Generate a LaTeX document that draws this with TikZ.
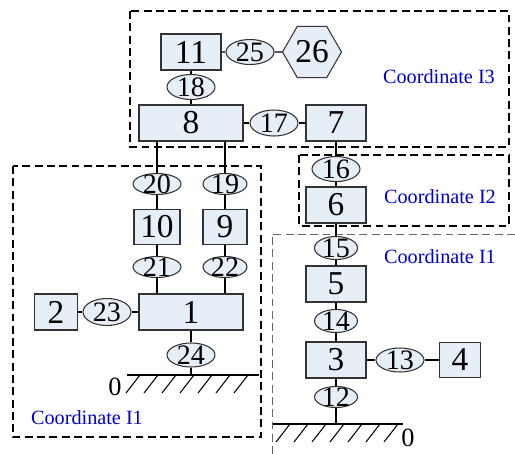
\documentclass[tikz,border=0pt]{standalone}
\usepackage{fontspec}
\setmainfont{Liberation Serif}
\usetikzlibrary{shapes.geometric}
\definecolor{boxc}{HTML}{E6EEF8}
\definecolor{crdc}{HTML}{0000CC}
% ground: line from #1 to #2 at height #3, first hatch top at #4
\newcommand{\hatchground}[4]{%
  \draw (#1,#3) -- (#2,#3);
  \foreach \k in {0,...,6}
    \draw ({#4+18*\k},#3) -- ({#4-14+18*\k},{#3+18});
}

\begin{document}
\begin{tikzpicture}[x=0.02cm, y=-0.02cm, line width=0.6pt,
    box/.style={draw=black!80, fill=boxc, minimum width=1.2cm,
      minimum height=0.72cm, inner sep=0pt,
      font=\fontsize{19}{19}\selectfont},
    joint/.style={ellipse, draw=black!80, fill=boxc, minimum width=0.96cm,
      minimum height=0.5cm, inner xsep=0pt, inner ysep=-1.5pt,
      font=\fontsize{16}{16}\selectfont},
    frame/.style={dash pattern=on 4.5pt off 2.5pt},
    crd/.style={crdc, font=\fontsize{11.5}{12}\selectfont},
    zero/.style={font=\fontsize{15}{15}\selectfont}]
  \useasboundingbox (0,0) rectangle (515,454);

  % coordinate frames
  \draw[frame] (130,11) rectangle (509,147);
  \draw[frame] (299,155) rectangle (509,226);
  \draw[frame] (13,166) rectangle (261,437);
  \draw[frame, black!60, line width=0.4pt] (272,454) -- (272,234) -- (515,234);
  \node[crd] (c3) at (439,77) {Coordinate I3};
  \node[crd] (c2) at (440,197) {Coordinate I2};
  \node[crd] (c1r) at (440,257) {Coordinate I1};
  \node[crd] (c1l) at (87,418) {Coordinate I1};

  % upper body
  \node[box] (n11) at (191,52) {11};
  \node[joint] (e25) at (250,52) {25};
  \node[regular polygon, regular polygon sides=6, draw=black!80, fill=boxc,
        minimum size=1.18cm, inner sep=0pt,
        font=\fontsize{19}{19}\selectfont] (h26) at (312,52) {26};
  \node[joint] (e18) at (191,87) {18};
  \node[box, minimum width=2.08cm] (n8) at (191,123) {8};
  \node[joint, minimum height=0.52cm] (e17) at (274,123) {17};
  \node[box] (n7) at (336,123) {7};

  % left branch
  \node[joint, minimum height=0.42cm] (e20) at (157,184) {20};
  \node[joint, minimum height=0.42cm, minimum width=0.88cm] (e19) at (225,184) {19};
  \node[box, minimum width=0.92cm, minimum height=0.7cm] (n10) at (157,227) {10};
  \node[box, minimum width=0.88cm, minimum height=0.7cm] (n9) at (225,227) {9};
  \node[joint, minimum height=0.42cm] (e21) at (157,267) {21};
  \node[joint, minimum height=0.42cm, minimum width=0.88cm] (e22) at (225,267) {22};
  \node[box, minimum width=2.08cm] (n1) at (191,312) {1};
  \node[box, minimum width=0.86cm] (n2) at (56,312) {2};
  \node[joint, minimum height=0.54cm] (e23) at (107,312) {23};
  \node[joint, minimum height=0.48cm] (e24) at (191,355) {24};
  \coordinate (g1) at (191,375);
  \hatchground{127}{259}{375}{140}
  \node[zero] (z1) at (115,387) {0};

  % right branch
  \node[joint] (e16) at (336,169) {16};
  \node[box] (n6) at (336,205) {6};
  \node[joint, minimum width=0.86cm, minimum height=0.46cm] (e15) at (336,248) {15};
  \node[box] (n5) at (336,284) {5};
  \node[joint, minimum width=0.86cm, minimum height=0.46cm] (e14) at (336,321) {14};
  \node[box] (n3) at (336,360) {3};
  \node[joint, minimum height=0.48cm] (e13) at (400,360) {13};
  \node[box, minimum width=0.82cm, minimum height=0.7cm] (n4) at (460,360) {4};
  \node[joint, minimum width=0.86cm, minimum height=0.42cm] (e12) at (336,397) {12};
  \coordinate (g2) at (336,424);
  \hatchground{273}{403}{424}{290}
  \node[zero] (z2) at (408,438) {0};

  % connectors
  \draw (n11) -- (e25) -- (h26);
  \draw (n11) -- (e18) -- (n8);
  \draw (n8) -- (e17) -- (n7);
  \draw (n7) -- (e16) -- (n6) -- (e15) -- (n5) -- (e14) -- (n3) -- (e12) -- (g2);
  \draw (n3) -- (e13) -- (n4);
  \draw (n8.south -| e20) -- (e20) -- (n10) -- (e21) -- (n1.north -| e21);
  \draw (n8.south -| e19) -- (e19) -- (n9) -- (e22) -- (n1.north -| e22);
  \draw (n2) -- (e23) -- (n1);
  \draw (n1) -- (e24) -- (g1);
\end{tikzpicture}
\end{document}
